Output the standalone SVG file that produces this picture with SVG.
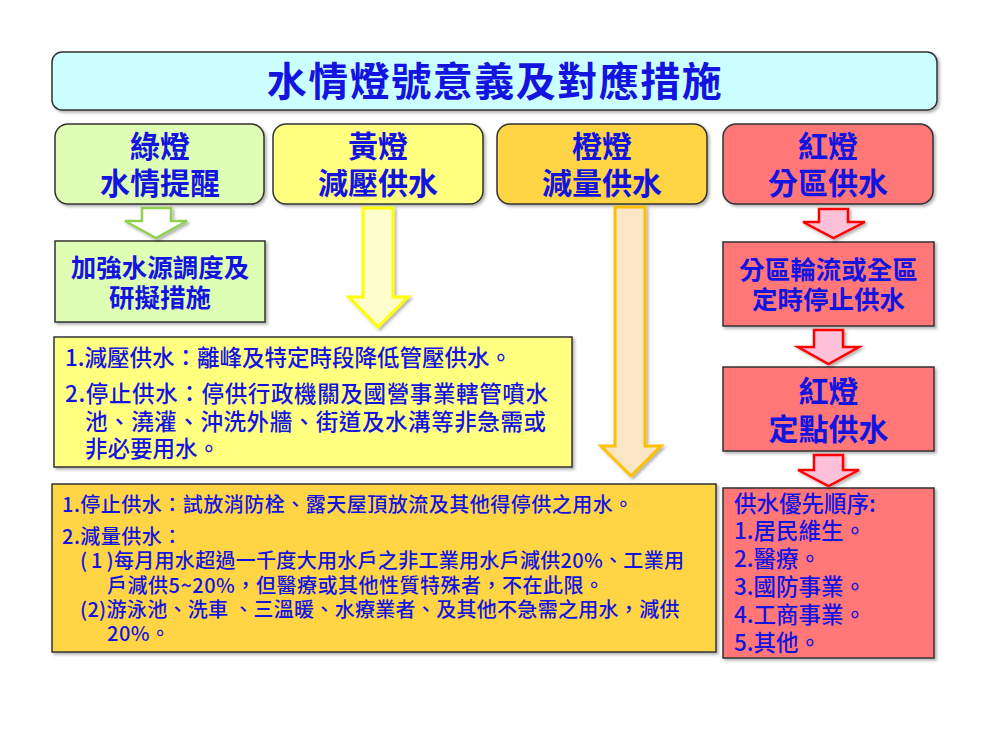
<svg xmlns="http://www.w3.org/2000/svg" width="1007" height="731" viewBox="0 0 1007 731">
<defs>
<filter id="sh" x="-10%" y="-10%" width="130%" height="130%">
<feDropShadow dx="2" dy="2" stdDeviation="1.5" flood-color="#000" flood-opacity="0.3"/>
</filter>
<style>
.box{stroke:#333;stroke-width:1.5;filter:url(#sh)}
.t{font-family:"Noto Sans CJK TC","Noto Sans CJK SC",sans-serif;fill:#1414E0}
.h{font-size:30px;font-weight:bold;text-anchor:middle}
.m{font-size:25.5px;font-weight:bold;text-anchor:middle}
.b{font-size:22.5px;font-weight:500}
.o{font-size:20px;font-weight:500}
.arr{filter:url(#sh);stroke-linejoin:miter}
</style>
</defs>
<rect width="1007" height="731" fill="#fff"/>

<g id="title">
<rect class="box" x="52" y="52" width="885" height="58" rx="10" fill="#CCFFFF"/>
<text class="t" x="495" y="96" font-size="40" font-weight="bold" text-anchor="middle" letter-spacing="1.5">水情燈號意義及對應措施</text>
</g>

<g id="green-light">
<rect class="box" x="55" y="124" width="209" height="80" rx="13" fill="#DEFFB3"/>
<text class="t h" x="160" y="157">綠燈</text>
<text class="t h" x="160" y="194">水情提醒</text>
</g>

<g id="yellow-light">
<rect class="box" x="273" y="124" width="210" height="80" rx="13" fill="#FFFF80"/>
<text class="t h" x="378" y="157">黃燈</text>
<text class="t h" x="378" y="194">減壓供水</text>
</g>

<g id="orange-light">
<rect class="box" x="497" y="124" width="210" height="80" rx="13" fill="#FFD545"/>
<text class="t h" x="602" y="157">橙燈</text>
<text class="t h" x="602" y="194">減量供水</text>
</g>

<g id="red-light">
<rect class="box" x="723" y="124" width="210" height="80" rx="13" fill="#FF7777"/>
<text class="t h" x="828" y="157">紅燈</text>
<text class="t h" x="828" y="194">分區供水</text>
</g>

<g id="green-action">
<rect class="box" x="55" y="241" width="210" height="81" fill="#DEFFB3"/>
<text class="t m" x="160" y="277">加強水源調度及</text>
<text class="t m" x="160" y="307">研擬措施</text>
</g>

<g id="yellow-action">
<rect class="box" x="54" y="337" width="518" height="130" fill="#FFFF80"/>
<text class="t b" x="65" y="365.5">1.減壓供水：離峰及特定時段降低管壓供水。</text>
<text class="t b" x="65" y="401.5" textLength="483" lengthAdjust="spacing">2.停止供水：停供行政機關及國營事業轄管噴水</text>
<text class="t b" x="85" y="429.5" textLength="461" lengthAdjust="spacing">池、澆灌、沖洗外牆、街道及水溝等非急需或</text>
<text class="t b" x="85" y="456.5">非必要用水。</text>
</g>

<g id="red-action">
<rect class="box" x="723" y="242" width="211" height="84" fill="#FF7777"/>
<text class="t m" x="828.5" y="279">分區輪流或全區</text>
<text class="t m" x="828.5" y="309">定時停止供水</text>
</g>

<g id="red-fixed">
<rect class="box" x="723" y="367" width="211" height="84" fill="#FF7777"/>
<text class="t h" x="828.5" y="401.5">紅燈</text>
<text class="t h" x="828.5" y="439.5">定點供水</text>
</g>

<g id="orange-action">
<rect class="box" x="52" y="484" width="664" height="168" fill="#FFD545"/>
<text class="t o" x="62" y="512" letter-spacing="0.5">1.停止供水：試放消防栓、露天屋頂放流及其他得停供之用水。</text>
<text class="t o" x="62" y="544" letter-spacing="0.5">2.減量供水：</text>
<text class="t o" x="80" y="568" letter-spacing="0.3"><tspan letter-spacing="4">(1</tspan>)每月用水超過一千度大用水戶之非工業用水戶減供20%、工業用</text>
<text class="t o" x="107" y="593" letter-spacing="0.5">戶減供5~20%，但醫療或其他性質特殊者，不在此限。</text>
<text class="t o" x="80" y="617" letter-spacing="0.3">(2)游泳池、洗車 、三溫暖、水療業者、及其他不急需之用水，減供</text>
<text class="t o" x="107" y="641" letter-spacing="0.5">20%。</text>
</g>

<g id="red-priority">
<rect class="box" x="723" y="488" width="211" height="170" fill="#FF7777"/>
<text class="t b" x="734" y="511.5">供水優先順序:</text>
<text class="t b" x="734" y="539.3">1.居民維生。</text>
<text class="t b" x="734" y="567.1">2.醫療。</text>
<text class="t b" x="734" y="594.9">3.國防事業。</text>
<text class="t b" x="734" y="622.7">4.工商事業。</text>
<text class="t b" x="734" y="650.5">5.其他。</text>
</g>

<g id="connectors">
<polygon class="arr" points="142,208 171,208 171,221 187,221 156,238 125,221 142,221" fill="#FFFFFF" stroke="#92D050" stroke-width="2.5"/>
<polygon class="arr" points="363,208 393,208 393,297 408,297 378,327 349,297 363,297" fill="#FFFFCC" stroke="#FFFF00" stroke-width="3"/>
<polygon class="arr" points="615,207 645,207 645,446 661,446 631,476 601,446 615,446" fill="#FAE5C5" stroke="#FFC000" stroke-width="3"/>
<polygon class="arr" points="819,209 848,209 848,222 865,222 833.5,238 803,222 819,222" fill="#FFC1DA" stroke="#FF0000" stroke-width="2.5"/>
<polygon class="arr" points="814,330 843,330 843,347 859,347 828.5,364 798,347 814,347" fill="#FFC1DA" stroke="#FF0000" stroke-width="2.5"/>
<polygon class="arr" points="814,455 843,455 843,470 859,470 828.5,486 798,470 814,470" fill="#FFC1DA" stroke="#FF0000" stroke-width="2.5"/>
</g>
</svg>
